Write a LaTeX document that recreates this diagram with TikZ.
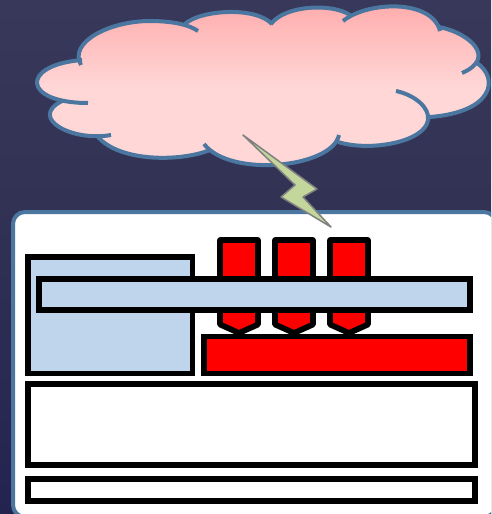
\documentclass[tikz,border=0pt]{standalone}
\definecolor{bgtop}{HTML}{38385A}
\definecolor{bgmid}{HTML}{323255}
\definecolor{bgbot}{HTML}{232350}
\definecolor{edgeblue}{HTML}{4A76A0}
\definecolor{ltblue}{HTML}{BED5EC}
\definecolor{cloudtop}{HTML}{FFAAAA}
\definecolor{cloudlow}{HTML}{FFD7D7}
\definecolor{bolt}{HTML}{C3D69B}
\pgfdeclareverticalshading{cloudshade}{100bp}{color(0bp)=(cloudlow); color(50bp)=(cloudlow); color(75bp)=(cloudtop); color(100bp)=(cloudtop)}
\pgfdeclareverticalshading{bgshade}{100bp}{color(0bp)=(bgbot); color(25bp)=(bgbot); color(55bp)=(bgmid); color(75bp)=(bgtop); color(100bp)=(bgtop)}
\tikzset{
  blackbox/.style={draw=black,line width=5.7pt,miter limit=10},
  pin/.style={draw=black,fill=red,line width=5.7pt,line join=round},
  cloudline/.style={draw=edgeblue,line width=4pt},
}
\begin{document}
\begin{tikzpicture}[x=1pt,y=-1pt]
\useasboundingbox (0,0) rectangle (491,514);
\fill[shading=bgshade] (0,0) rectangle (491,514);
\path[clip] (0,0) rectangle (491,514);
% panel
\draw[draw=edgeblue,fill=white,line width=4pt,rounded corners=12pt] (13,212) rectangle (496,517);
% pins
\foreach \x in {220,275,330}{
  \path[pin] (\x,240) -- (\x+38,240) -- (\x+38,324.5) -- (\x+19,333) -- (\x,324.5) -- cycle;
}
% blocks
\path[blackbox,fill=ltblue] (28,257) rectangle (192.5,373.5);
\path[blackbox,fill=ltblue] (39,279) rectangle (470,310);
\path[blackbox,fill=red] (204,336.5) rectangle (470,373.5);
\path[blackbox,fill=white] (28,384) rectangle (475,465);
\path[blackbox,fill=white] (28,479) rectangle (475,501);
% cloud fill
\path[shading=cloudshade]
 (81,65) .. controls (68,42) and (110,21) .. (150,21)
 .. controls (163,21) and (175,22) .. (185,24)
 .. controls (200,10) and (255,6) .. (272,24)
 .. controls (285,5) and (332,3) .. (350,15)
 -- (343,21) .. controls (368,1) and (432,-1) .. (440,31)
 -- (439,27) .. controls (470,33) and (497,58) .. (462,73)
 -- (477,63) .. controls (499,78) and (494,112) .. (430,117)
 -- (428,120) .. controls (425,142) and (370,152) .. (338,142)
 -- (339,135) .. controls (332,168) and (230,178) .. (204,144)
 -- (210,150) .. controls (180,162) and (120,162) .. (98,137)
 -- (111,135) .. controls (72,142) and (28,118) .. (62,101)
 -- (88,103) .. controls (22,103) and (20,65) .. (82,60) -- cycle;
% cloud outline
\path[cloudline]
 (81,65) .. controls (68,42) and (110,21) .. (150,21) .. controls (170,21) and (188,24) .. (198,31);
\path[cloudline] (185,24) .. controls (200,10) and (255,6) .. (272,24);
\path[cloudline] (271,24) .. controls (285,5) and (332,3) .. (350,15);
\path[cloudline] (343,21) .. controls (368,1) and (432,-1) .. (440,31);
\path[cloudline] (439,27) .. controls (470,33) and (497,58) .. (462,73);
\path[cloudline] (477,63) .. controls (499,78) and (494,112) .. (430,117);
\path[cloudline] (396,91) .. controls (415,95) and (430,108) .. (428,120) .. controls (425,142) and (370,152) .. (338,142);
\path[cloudline] (339,135) .. controls (332,168) and (230,178) .. (204,144);
\path[cloudline] (210,150) .. controls (180,162) and (120,162) .. (98,137);
\path[cloudline] (111,135) .. controls (72,142) and (28,118) .. (62,101);
\path[cloudline] (88,103) .. controls (22,103) and (20,65) .. (82,60);
% lightning
\path[draw=gray,fill=bolt,line width=1.5pt,line join=round]
 (243,135) -- (317,189) -- (303,197) -- (331,227) -- (281,197) -- (295,185) -- cycle;
\end{tikzpicture}
\end{document}
